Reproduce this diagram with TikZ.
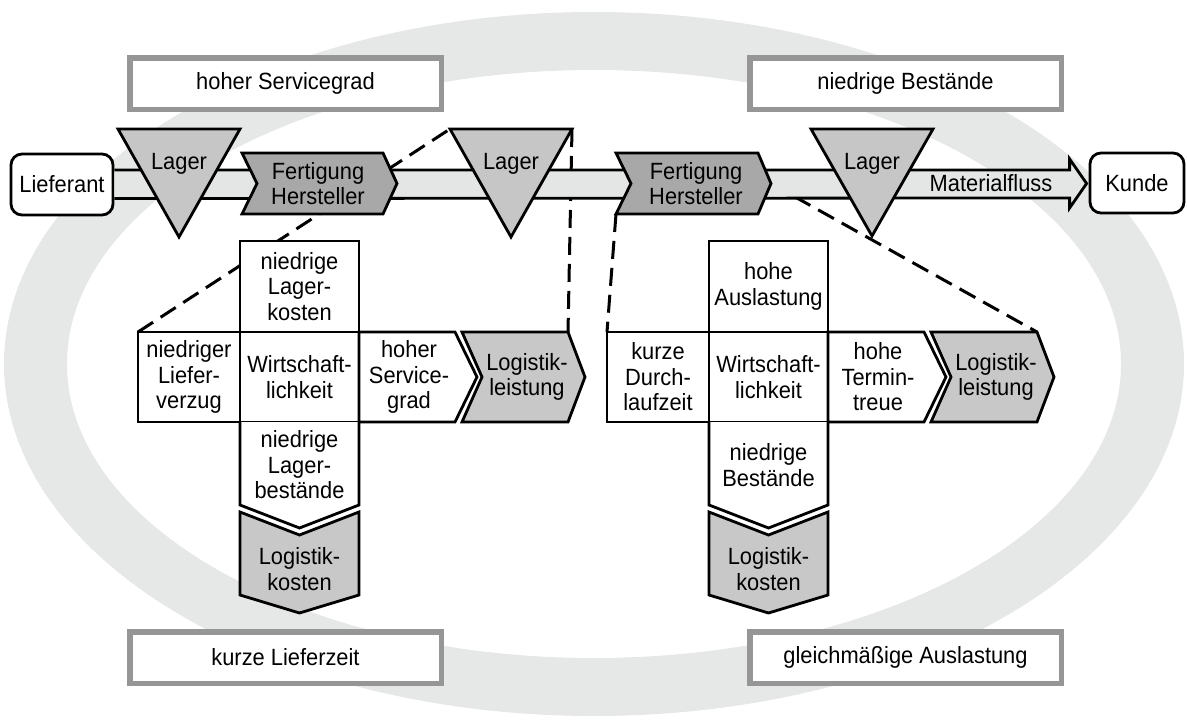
\documentclass[tikz,border=0pt]{standalone}
\usepackage{fontspec}
\setmainfont{Liberation Sans}[FakeStretch=0.93]
\usetikzlibrary{calc}

\definecolor{ringgray}{RGB}{230,231,231}
\definecolor{bandgray}{RGB}{228,229,229}
\definecolor{lagergray}{RGB}{198,198,198}
\definecolor{fertgray}{RGB}{168,168,168}
\definecolor{logigray}{RGB}{200,200,200}
\definecolor{framegray}{RGB}{150,150,150}

\newcommand{\labelfont}{\fontsize{23.5}{25.5}\selectfont}

\tikzset{
  txt/.style={font=\labelfont, align=center, inner sep=0pt},
  outline/.style={draw=black, line width=2.8pt, line join=miter},
  goalbox/.style={draw=framegray, line width=5.5pt, fill=white, inner sep=0pt,
    minimum width=311.5pt, minimum height=51.5pt, font=\labelfont},
  endbox/.style={draw=black, line width=2.8pt, rounded corners=11pt, fill=white, inner sep=0pt,
    font=\labelfont},
  link/.style={draw=black, line width=3pt, dash pattern=on 18pt off 9pt},
}

% one "Wirtschaftlichkeit" cross: #1 name prefix, #2 shift, #3 top, #4 left, #5 right, #6 bottom
\newcommand{\wirtkreuz}[6]{%
  \begin{scope}[xshift=#2]
    \draw[outline, fill=white] (240,241) rectangle (359,332);
    \node[txt] (#1-top) at (299.5,286.5) {#3};
    \draw[outline, fill=white] (138,332) rectangle (240,422);
    \node[txt] (#1-left) at (189,377) {#4};
    \draw[outline, fill=white] (240,332) rectangle (359,422);
    \node[txt] (#1-mid) at (299.5,377) {Wirtschaft-\\lichkeit};
    \draw[outline, fill=white] (359,332) -- (455,332) -- (477,377) -- (455,422) -- (359,422) -- cycle;
    \node[txt] (#1-right) at (409,377) {#5};
    \draw[outline, fill=logigray] (462,332) -- (568,332) -- (585,377) -- (568,422)
      -- (462,422) -- (482,377) -- cycle;
    \node[txt] (#1-leist) at (527,377) {Logistik-\\leistung};
    \draw[outline, fill=white] (240,422) -- (240,505) -- (299.5,528) -- (359,505) -- (359,422);
    \node[txt] (#1-bottom) at (299.5,465) {#6};
    \draw[outline, fill=logigray] (240,512) -- (299.5,535) -- (359,512) -- (359,595)
      -- (299.5,613) -- (240,595) -- cycle;
    \node[txt] (#1-kost) at (299.5,569) {Logistik-\\kosten};
  \end{scope}}

\begin{document}
\begin{tikzpicture}[x=1pt, y=-1pt]
  \useasboundingbox (0,0) rectangle (1187,728);

  % background ring
  \fill[ringgray, even odd rule]
    (594,364) ellipse [x radius=590pt, y radius=352pt]
    (594,364) ellipse [x radius=527pt, y radius=294pt];

  % corner points joined by the dashed guide lines
  \coordinate (crossA-corner) at (138,332);
  \coordinate (crossA-lltr)   at (568,332);
  \coordinate (crossB-corner) at (607,332);
  \coordinate (crossB-lltr)   at (1037,332);
  \coordinate (lagerB-tl)     at (450,129);
  \coordinate (lagerB-tr)     at (572,129);
  \coordinate (fertB-bl)      at (616,214);
  \coordinate (fertB-tip)     at (771,183.5);

  \draw[link] (crossA-corner) -- (lagerB-tl);
  \draw[link] (lagerB-tr) -- (crossA-lltr);
  \draw[link] (fertB-bl) -- (crossB-corner);
  \draw[link] (fertB-tip) -- (crossB-lltr);

  % end points of the material flow
  \node[endbox, minimum width=102pt, minimum height=61pt] (lief) at (62,184.5) {Lieferant};
  \node[endbox, minimum width=94pt, minimum height=60pt] (kunde) at (1137,183) {Kunde};

  % material flow band
  \coordinate (bandNW) at ($(lief.east)+(0,-14.5)$);
  \coordinate (bandSW) at ($(lief.east)+(0,14)$);
  \coordinate (bandtip) at ($(kunde.west)+(-2,0.5)$);
  \fill[bandgray] (bandNW) -- ($(bandtip)+(-17,-13.5)$) -- ($(bandtip)+(-17,-24.5)$) -- (bandtip)
    -- ($(bandtip)+(-17,24.5)$) -- ($(bandtip)+(-17,14.5)$) -- (bandSW) -- cycle;
  \draw[outline] (bandNW) -- ($(bandtip)+(-17,-13.5)$) -- ($(bandtip)+(-17,-24.5)$) -- (bandtip)
    -- ($(bandtip)+(-17,24.5)$) -- ($(bandtip)+(-17,14.5)$) -- (bandSW);
  \node[txt] (flow) at (991,183) {Materialfluss};

  % stores
  \draw[outline, fill=lagergray] (118,129) -- (240,129) -- (179,237) -- cycle;
  \node[txt] (lagerA) at (179,164) {Lager};
  \draw[outline, fill=lagergray] (lagerB-tl) -- (lagerB-tr) -- (511,237) -- cycle;
  \node[txt] (lagerB) at (511,164) {Lager};
  \draw[outline, fill=lagergray] (811,129) -- (933,129) -- (872,236) -- cycle;
  \node[txt] (lagerC) at (872,164) {Lager};

  % production steps
  \draw[outline, fill=fertgray] (242,153) -- (383,153) -- (397,183.5) -- (383,214) -- (242,214)
    -- (257,183.5) -- cycle;
  \node[txt] (fertA) at (318,183.5) {Fertigung\\Hersteller};
  \draw[outline, fill=fertgray] (616,153) -- (758,153) -- (fertB-tip) -- (758,214) -- (fertB-bl)
    -- (631,183.5) -- cycle;
  \node[txt] (fertB) at (696,183.5) {Fertigung\\Hersteller};

  % the two target crosses
  \wirtkreuz{crossA}{0pt}{niedrige\\Lager-\\kosten}{niedriger\\Liefer-\\verzug}%
    {hoher\\Service-\\grad}{niedrige\\Lager-\\bestände}
  \wirtkreuz{crossB}{469pt}{hohe\\Auslastung}{kurze\\Durch-\\laufzeit}%
    {hohe\\Termin-\\treue}{niedrige\\Bestände}

  % goal boxes
  \node[goalbox] (zielA) at (285.5,83.5) {hoher Servicegrad};
  \node[goalbox] (zielB) at (905.5,83.5) {niedrige Bestände};
  \node[goalbox] (zielC) at (285.5,657.5) {kurze Lieferzeit};
  \node[goalbox] (zielD) at (905.5,657.5) {gleichmäßige Auslastung};
\end{tikzpicture}
\end{document}
